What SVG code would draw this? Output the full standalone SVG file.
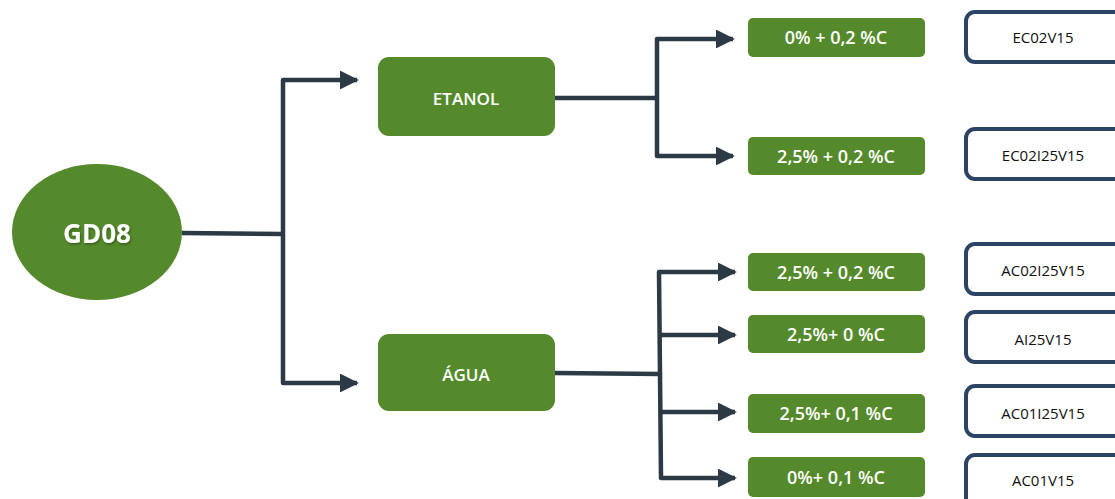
<svg xmlns="http://www.w3.org/2000/svg" width="1115" height="499" viewBox="0 0 1115 499">
  <style>
    .g { fill: #548a2b; }
    .wt { fill: #ffffff; font-family: "Open Sans", "DejaVu Sans", sans-serif; text-anchor: middle; }
    .mx { font-size: 18px; font-weight: 600; }
    .code { fill: #ffffff; stroke: #2b4463; stroke-width: 4; }
    .ct { fill: #111111; font-family: "Open Sans", "Liberation Sans", sans-serif; font-size: 15px; text-anchor: middle; }
    .ln { fill: none; stroke: #2b3a44; stroke-width: 4.5; stroke-linejoin: round; }
  </style>
  <defs>
    <marker id="ah" viewBox="0 0 10 10" refX="9" refY="5" markerWidth="4.2" markerHeight="4.2" orient="auto" markerUnits="strokeWidth">
      <path d="M0,0 L10,5 L0,10 Z" fill="#2b3a44"/>
    </marker>
    <filter id="ts" x="-20%" y="-20%" width="140%" height="140%">
      <feDropShadow dx="1" dy="1.5" stdDeviation="1" flood-color="#000" flood-opacity="0.35"/>
    </filter>
  </defs>

  <rect width="1115" height="499" fill="#ffffff"/>

  <!-- connectors -->
  <g id="connectors">
    <path class="ln" d="M182,233 L283,234"/>
    <path class="ln" d="M283,234 L283,80 L357,80" marker-end="url(#ah)"/>
    <path class="ln" d="M283,234 L283,383 L357,383" marker-end="url(#ah)"/>

    <path class="ln" d="M555,98 L657,98"/>
    <path class="ln" d="M657,98 L657,39 L733,39" marker-end="url(#ah)"/>
    <path class="ln" d="M657,98 L657,156 L733,156" marker-end="url(#ah)"/>

    <path class="ln" d="M555,373 L660,374"/>
    <path class="ln" d="M660,374 L659,272 L735,272" marker-end="url(#ah)"/>
    <path class="ln" d="M660,335 L735,335" marker-end="url(#ah)"/>
    <path class="ln" d="M659,412 L735,412" marker-end="url(#ah)"/>
    <path class="ln" d="M660,374 L661,478 L735,478" marker-end="url(#ah)"/>
  </g>

  <!-- root -->
  <g id="gd08">
    <ellipse class="g" cx="97" cy="232" rx="85" ry="68"/>
    <text class="wt" x="97" y="243" font-size="26" font-weight="bold" filter="url(#ts)">GD08</text>
  </g>

  <!-- solvents -->
  <g id="etanol">
    <rect class="g" x="378" y="57" width="177" height="79" rx="11"/>
    <text class="wt" x="466" y="105" font-size="17" font-weight="600">ETANOL</text>
  </g>
  <g id="agua">
    <rect class="g" x="378" y="334" width="177" height="77" rx="11"/>
    <text class="wt" x="466" y="381" font-size="17" font-weight="600">ÁGUA</text>
  </g>

  <!-- mixtures -->
  <g id="mix-e0">
    <rect class="g" x="748" y="18" width="177" height="39" rx="5"/>
    <text class="wt mx" x="836" y="44">0% + 0,2 %C</text>
  </g>
  <g id="mix-e25">
    <rect class="g" x="748" y="137" width="177" height="38" rx="5"/>
    <text class="wt mx" x="836" y="163">2,5% + 0,2 %C</text>
  </g>
  <g id="mix-a25c02">
    <rect class="g" x="748" y="253" width="177" height="38" rx="5"/>
    <text class="wt mx" x="836" y="279">2,5% + 0,2 %C</text>
  </g>
  <g id="mix-a25c0">
    <rect class="g" x="748" y="315" width="177" height="38" rx="5"/>
    <text class="wt mx" x="836" y="341">2,5%+ 0 %C</text>
  </g>
  <g id="mix-a25c01">
    <rect class="g" x="748" y="394" width="177" height="39" rx="5"/>
    <text class="wt mx" x="836" y="420">2,5%+ 0,1 %C</text>
  </g>
  <g id="mix-a0c01">
    <rect class="g" x="748" y="457" width="177" height="40" rx="5"/>
    <text class="wt mx" x="836" y="484">0%+ 0,1 %C</text>
  </g>

  <!-- sample codes -->
  <g id="c-ec02v15">
    <rect class="code" x="966" y="12" width="170" height="50" rx="9"/>
    <text class="ct" x="1043" y="43">EC02V15</text>
  </g>
  <g id="c-ec02i25v15">
    <rect class="code" x="966" y="129" width="170" height="50" rx="9"/>
    <text class="ct" x="1043" y="161">EC02I25V15</text>
  </g>
  <g id="c-ac02i25v15">
    <rect class="code" x="966" y="244" width="170" height="50" rx="9"/>
    <text class="ct" x="1043" y="276">AC02I25V15</text>
  </g>
  <g id="c-ai25v15">
    <rect class="code" x="966" y="312" width="170" height="50" rx="9"/>
    <text class="ct" x="1043" y="345">AI25V15</text>
  </g>
  <g id="c-ac01i25v15">
    <rect class="code" x="966" y="386" width="170" height="50" rx="9"/>
    <text class="ct" x="1043" y="419">AC01I25V15</text>
  </g>
  <g id="c-ac01v15">
    <rect class="code" x="966" y="455" width="170" height="60" rx="9"/>
    <text class="ct" x="1043" y="486">AC01V15</text>
  </g>
</svg>
